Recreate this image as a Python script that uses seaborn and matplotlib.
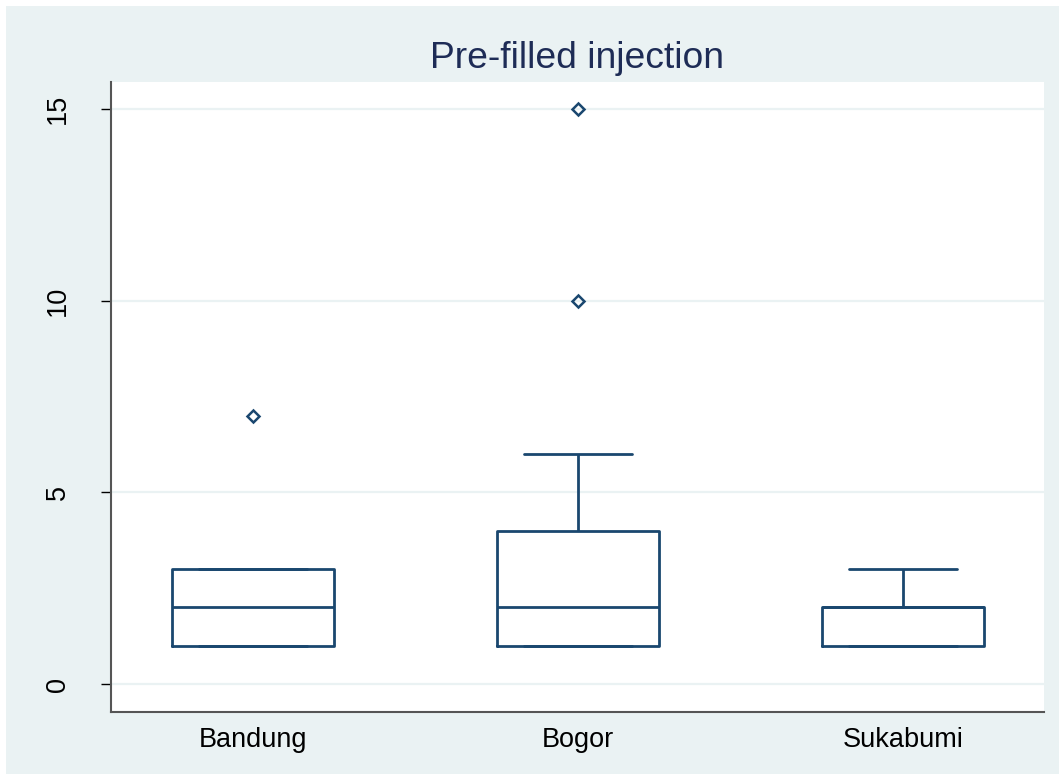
import matplotlib
matplotlib.use("Agg")
import matplotlib.pyplot as plt
import pandas as pd
import seaborn as sns
from matplotlib.patches import Rectangle

# values per district
bandung = [1, 1, 1, 1, 2, 2, 2, 3, 3, 3, 3, 7]
bogor = [1, 1, 1, 1, 2, 2, 2, 3, 4, 4, 6, 10, 15]
sukabumi = [1, 1, 1, 2, 2, 2, 2, 2, 3]
districts = ["Bandung", "Bogor", "Sukabumi"]
yticks = [0, 5, 10, 15]

#stata-like colours
BG = "#EAF2F3"
NAVY = "#1A476F"
TITLE_COL = "#1E2C56"

sns.set_theme(style="white")
plt.rcParams["font.family"] = ["Liberation Sans", "DejaVu Sans"]

df = pd.DataFrame({
    "district": ["Bandung"] * len(bandung) + ["Bogor"] * len(bogor) + ["Sukabumi"] * len(sukabumi),
    "value": bandung + bogor + sukabumi,
})

fig = plt.figure(figsize=(10.59, 7.74), dpi=100, facecolor="white")
# light outer panel, leaving a thin white strip on left/top
fig.patches.append(Rectangle((6 / 1059, 0), 1, 1 - 6 / 774, transform=fig.transFigure,
                             facecolor=BG, edgecolor="none", zorder=-10))

ax = fig.add_axes([111 / 1059, 1 - 712 / 774, (1044 - 111) / 1059, (712 - 82) / 774])
ax.set_facecolor("white")

sns.boxplot(data=df, x="district", y="value", order=districts, ax=ax,
            fill=False, color=NAVY, linecolor=NAVY, width=0.5, linewidth=2.0,
            whis=1.5, capwidths=0.335,
            medianprops={"color": NAVY, "linewidth": 2.0},
            flierprops={"marker": "D", "markersize": 6.5, "markerfacecolor": "none",
                        "markeredgecolor": NAVY, "markeredgewidth": 1.8})

ax.set_xlim(-0.437, 2.434)
ax.set_ylim(-0.73, 15.7)
ax.set_yticks(yticks)
ax.set_yticklabels([str(v) for v in yticks], rotation=90, va="center", fontsize=19.5)
ax.tick_params(axis="y", length=7, width=1, color="black", pad=22, left=True)
ax.tick_params(axis="x", length=0, pad=11, labelsize=19.5)
for lbl in ax.get_xticklabels():
    lbl.set_color("black")
for lbl in ax.get_yticklabels():
    lbl.set_color("black")

ax.yaxis.grid(True, color=BG, linewidth=1.6)
ax.xaxis.grid(False)
ax.set_axisbelow(True)

for side in ["top", "right"]:
    ax.spines[side].set_visible(False)
for side in ["left", "bottom"]:
    ax.spines[side].set_color("#555555")
    ax.spines[side].set_linewidth(1.5)

ax.set_xlabel("")
ax.set_ylabel("")
ax.set_title("Pre-filled injection", fontsize=26.8, color=TITLE_COL, pad=10)

fig.savefig("out.png", dpi=100)
